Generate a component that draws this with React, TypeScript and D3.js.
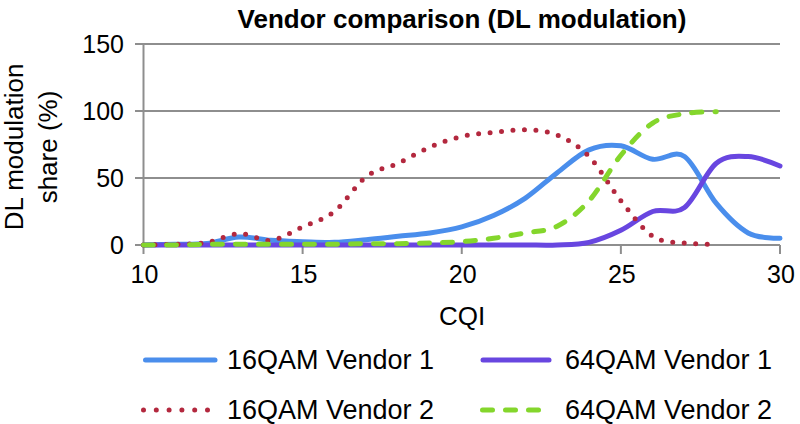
import React from "react";
import * as d3 from "d3";

const cqi = [10, 11, 12, 13, 14, 15, 16, 17, 18, 19, 20, 21, 22, 23, 24, 25, 26, 27, 28, 29, 30];
const qam16Vendor1 = [0, 0.5, 1.2, 6, 3.5, 2.5, 2, 4, 6.5, 9, 13.5, 22, 35, 54, 71, 74, 64, 66, 31, 9, 5];
const qam64Vendor1 = [0, 0, 0, 0, 0, 0, 0, 0, 0, 0, 0, 0, 0, 0, 2, 11, 25, 28, 61, 66, 59];
const qam16Vendor2 = [0, 0.5, 2, 8.5, 3.5, 13.5, 25, 51, 61, 73, 81, 84, 86, 82, 66, 33, 6.5, 1.5, 0.5];
const qam64Vendor2 = [0, 0, 0.5, 0.5, 0.5, 0.5, 0.5, 1, 1, 1.5, 2.5, 5, 9, 14, 33, 67, 91, 98, 99.5];

const yTicks = [0, 50, 100, 150];
const xTicks = [10, 15, 20, 25, 30];

const seriesNames = ["16QAM Vendor 1", "64QAM Vendor 1", "16QAM Vendor 2", "64QAM Vendor 2"];

const FONT = "'Liberation Sans', Arial, Helvetica, sans-serif";

export default function App() {
  const W = 800, H = 424;
  const x = d3.scaleLinear().domain([10, 30]).range([143.5, 780]);
  const y = d3.scaleLinear().domain([0, 150]).range([245, 44]);

  const line = d3
    .line<[number, number]>()
    .x((d) => x(d[0]))
    .y((d) => y(d[1]))
    .curve(d3.curveCardinal.tension(0));

  const styles = [
    { color: "#4a8eec", dash: undefined as string | undefined, legendDash: undefined as string | undefined },
    { color: "#6846e0", dash: undefined as string | undefined, legendDash: undefined as string | undefined },
    { color: "#b3283e", dash: "0 11.5", legendDash: "0 12.8" },
    { color: "#84d62c", dash: "10 13", legendDash: "10 13" },
  ];
  const data = [qam16Vendor1, qam64Vendor1, qam16Vendor2, qam64Vendor2];

  const grid = "#8e8e8e";

  const legendPos = [
    { x0: 145.5, x1: 215, tx: 227, ty: 360 },
    { x0: 483, x1: 549, tx: 565, ty: 360 },
    { x0: 143.5, x1: 208, tx: 227, ty: 410 },
    { x0: 482.5, x1: 538.5, tx: 565, ty: 410 },
  ];

  return (
    <div style={{ position: "absolute", left: 0, top: 0 }}>
      <svg width={W} height={H} viewBox={`0 0 ${W} ${H}`} style={{ display: "block", background: "#fff" }}>
        <rect width={W} height={H} fill="#fff" />
        {/* gridlines */}
        {yTicks.map((t) => (
          <line key={"g" + t} x1={135} x2={x(30)} y1={y(t)} y2={y(t)} stroke={grid} strokeWidth={2} />
        ))}
        {/* y axis */}
        <line x1={x(10)} x2={x(10)} y1={y(150)} y2={y(0)} stroke={grid} strokeWidth={2} />
        {/* x ticks */}
        {xTicks.map((t) => (
          <line key={"xt" + t} x1={x(t)} x2={x(t)} y1={y(0)} y2={y(0) + 9} stroke={grid} strokeWidth={2} />
        ))}
        {/* y tick labels */}
        {yTicks.map((t) => (
          <text key={"yl" + t} x={124} y={y(t) + 8.5} textAnchor="end" fontFamily={FONT} fontSize={25} fill="#000">
            {t}
          </text>
        ))}
        {/* x tick labels */}
        {xTicks.map((t) => (
          <text key={"xl" + t} x={x(t) + 1} y={283} textAnchor="middle" fontFamily={FONT} fontSize={25} fill="#000">
            {t}
          </text>
        ))}
        {/* series */}
        {data.map((vals, i) => {
          const pts = vals.map((v, j) => [cqi[j], v] as [number, number]);
          const s = styles[i];
          return (
            <path
              key={"s" + i}
              d={line(pts) || ""}
              fill="none"
              stroke={s.color}
              strokeWidth={5}
              strokeDasharray={s.dash}
              strokeLinecap="round"
              strokeLinejoin="round"
            />
          );
        })}
        {/* title */}
        <text x={462} y={28} textAnchor="middle" fontFamily={FONT} fontSize={26} fontWeight="bold" fill="#000">
          Vendor comparison (DL modulation)
        </text>
        {/* x title */}
        <text x={462} y={325} textAnchor="middle" fontFamily={FONT} fontSize={26} fill="#000">
          CQI
        </text>
        {/* y title */}
        <g transform="translate(23,147) rotate(-90)">
          <text x={0} y={0} textAnchor="middle" fontFamily={FONT} fontSize={26} fill="#000">
            DL modulation
          </text>
          <text x={0} y={34} textAnchor="middle" fontFamily={FONT} fontSize={26} fill="#000">
            share (%)
          </text>
        </g>
        {/* legend */}
        {seriesNames.map((name, i) => {
          const p = legendPos[i];
          const s = styles[i];
          return (
            <g key={"lg" + i}>
              <line
                x1={p.x0}
                x2={p.x1}
                y1={p.ty}
                y2={p.ty}
                stroke={s.color}
                strokeWidth={5}
                strokeDasharray={s.legendDash}
                strokeLinecap="round"
              />
              <text x={p.tx} y={p.ty + 9} fontFamily={FONT} fontSize={27} fill="#000">
                {name}
              </text>
            </g>
          );
        })}
      </svg>
    </div>
  );
}
